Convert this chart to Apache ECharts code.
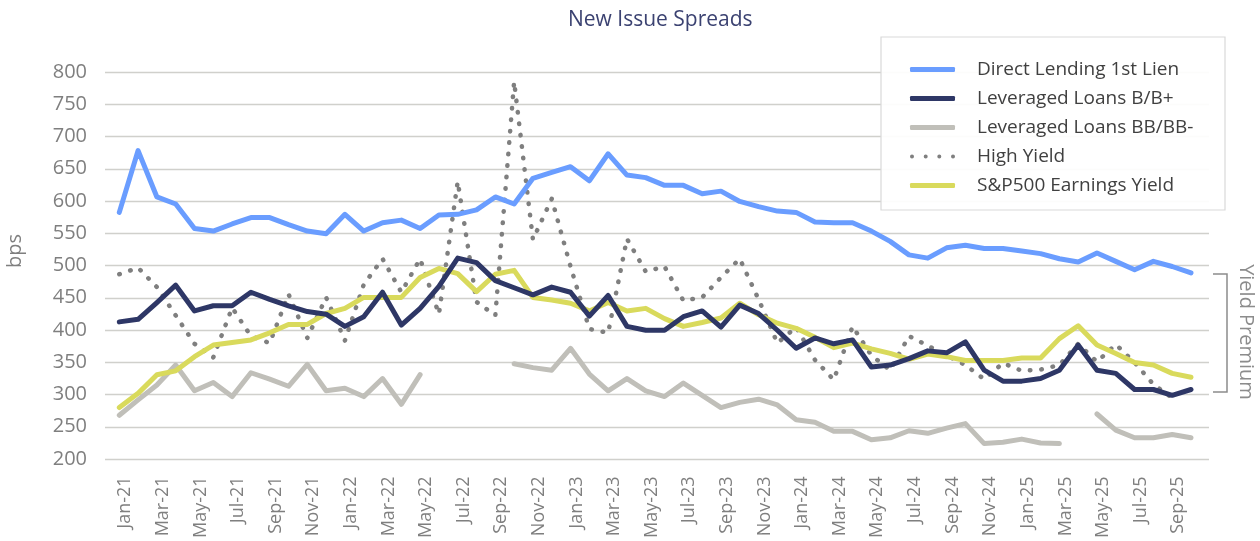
<!DOCTYPE html>
<html>
<head>
<meta charset="utf-8">
<script src="https://cdn.jsdelivr.net/npm/echarts@6.0.0/dist/echarts.min.js"></script>
<style>
  html, body { margin: 0; padding: 0; background: #fff; }
  #chart { width: 1260px; height: 541px; }
</style>
</head>
<body>
<div id="chart"></div>
<script>
const months = [
  "Jan-21", "Feb-21", "Mar-21", "Apr-21", "May-21", "Jun-21", "Jul-21", "Aug-21", "Sep-21", "Oct-21", "Nov-21", "Dec-21",
  "Jan-22", "Feb-22", "Mar-22", "Apr-22", "May-22", "Jun-22", "Jul-22", "Aug-22", "Sep-22", "Oct-22", "Nov-22", "Dec-22",
  "Jan-23", "Feb-23", "Mar-23", "Apr-23", "May-23", "Jun-23", "Jul-23", "Aug-23", "Sep-23", "Oct-23", "Nov-23", "Dec-23",
  "Jan-24", "Feb-24", "Mar-24", "Apr-24", "May-24", "Jun-24", "Jul-24", "Aug-24", "Sep-24", "Oct-24", "Nov-24", "Dec-24",
  "Jan-25", "Feb-25", "Mar-25", "Apr-25", "May-25", "Jun-25", "Jul-25", "Aug-25", "Sep-25", "Oct-25",
];

const directLending = [
  582, 678, 606, 595, 557, 553, 564, 574, 574, 563, 553, 549,
  579, 553, 566, 570, 557, 578, 579, 586, 606, 595, 635, 644,
  653, 631, 673, 640, 636, 624, 624, 611, 615, 599, 591, 584,
  582, 567, 566, 566, 553, 537, 516, 511, 527, 531, 526, 526,
  522, 518, 510, 505, 519, 506, 493, 506, 498, 488,
];

const loansB = [
  412, 416, 442, 469, 429, 437, 437, 458, 447, 437, 428, 424,
  405, 420, 458, 407, 433, 467, 511, 504, 476, 465, 454, 466,
  458, 421, 453, 405, 399, 399, 420, 429, 404, 438, 425, 399,
  371, 387, 378, 384, 342, 345, 355, 367, 364, 381, 337, 320,
  320, 324, 337, 376, 337, 332, 307, 307, 298, 307,
];

const loansBB = [
  267, 291, 314, 345, 305, 318, 296, 333, 323, 312, 346, 305,
  309, 296, 324, 284, 330, null, null, null, null, 347, 341, 337,
  371, 331, 305, 324, 305, 296, 317, 298, 279, 287, 292, 283,
  260, 256, 242, 242, 229, 232, 243, 239, 247, 254, 223, 225,
  230, 224, 223, null, 269, 244, 232, 232, 237, 232,
];

const highYield = [
  486, 496, 466, 422, 378, 357, 434, 390, 379, 455, 387, 450,
  383, 470, 510, 458, 510, 424, 630, 443, 422, 785, 540, 603,
  498, 401, 395, 541, 490, 498, 445, 450, 481, 510, 447, 379,
  404, 353, 322, 405, 360, 337, 390, 375, 360, 345, 323, 348,
  336, 338, 345, 378, 350, 377, 349, 315, 294, null,
];

const spEarnings = [
  279, 301, 330, 336, 358, 376, 380, 384, 395, 408, 408, 425,
  433, 450, 450, 450, 481, 495, 487, 459, 486, 492, 450, 446,
  441, 429, 442, 429, 433, 417, 405, 411, 418, 441, 423, 410,
  402, 388, 372, 379, 370, 363, 354, 362, 358, 352, 352, 352,
  356, 356, 386, 406, 376, 363, 349, 345, 332, 326,
];

const FONT = "Open Sans";
const GREY_TEXT = "#7f7f7f";
// four round dots for the High Yield legend swatch
const DOTS_ICON =
  "path://M0,2a2,2 0 1,0 4,0a2,2 0 1,0 -4,0z" +
  "M13.7,2a2,2 0 1,0 4,0a2,2 0 1,0 -4,0z" +
  "M27.3,2a2,2 0 1,0 4,0a2,2 0 1,0 -4,0z" +
  "M41,2a2,2 0 1,0 4,0a2,2 0 1,0 -4,0z";

const chart = echarts.init(document.getElementById("chart"), null, { renderer: "canvas" });

const solid = (color) => ({ color: color, width: 5, join: "round", cap: "round" });

const option = {
  animation: false,
  textStyle: { fontFamily: FONT },
  title: {
    text: "New Issue Spreads",
    left: 563,
    top: 5,
    textStyle: { fontFamily: FONT, fontSize: 21, fontWeight: "normal", color: "#3b4271" },
  },
  legend: {
    orient: "vertical",
    left: 910,
    top: 60,
    padding: 0,
    itemWidth: 45,
    itemHeight: 5,
    itemGap: 10,
    z: 20,
    textStyle: { fontFamily: FONT, fontSize: 19, color: "#404040", lineHeight: 19, padding: [0, 0, 0, 17] },
    data: [
      { name: "Direct Lending 1st Lien", icon: "roundRect" },
      { name: "Leveraged Loans B/B+", icon: "roundRect" },
      { name: "Leveraged Loans BB/BB-", icon: "roundRect" },
      { name: "High Yield", icon: DOTS_ICON },
      { name: "S&P500 Earnings Yield", icon: "roundRect" },
    ],
  },
  grid: [
    { left: 105, top: 72, width: 1104, height: 387 },
    { left: 119.3, top: 72, width: 1071.7, height: 387 },
  ],
  xAxis: [
    { type: "category", gridIndex: 0, data: months, show: false },
    {
      type: "category",
      gridIndex: 1,
      data: months,
      boundaryGap: false,
      axisLine: { show: false },
      axisTick: { show: false },
      splitLine: { show: false },
      axisLabel: {
        interval: 1,
        rotate: 90,
        margin: 18,
        fontFamily: FONT,
        fontSize: 18,
        lineHeight: 12,
        verticalAlign: "top",
        color: GREY_TEXT,
      },
    },
  ],
  yAxis: [
    {
      type: "value",
      gridIndex: 0,
      min: 200,
      max: 800,
      interval: 50,
      axisLine: { show: false },
      axisTick: { show: false },
      axisLabel: { margin: 18, fontFamily: FONT, fontSize: 20, color: GREY_TEXT },
      splitLine: { lineStyle: { color: "#d0d0cc", width: 1.4 } },
    },
    { type: "value", gridIndex: 1, min: 200, max: 800, interval: 50, show: false, splitLine: { show: false } },
  ],
  graphic: [
    {
      type: "rect",
      z: 10,
      shape: { x: 881, y: 37, width: 344, height: 173 },
      style: { fill: "rgba(255,255,255,0.92)", stroke: "#d9d9d9", lineWidth: 1.2 },
    },
    {
      type: "text",
      x: 15,
      y: 251,
      rotation: Math.PI / 2,
      style: { text: "bps", font: "20px " + FONT, fill: GREY_TEXT, align: "center", verticalAlign: "middle" },
    },
    {
      type: "polyline",
      shape: { points: [[1213, 274], [1227, 274], [1227, 392], [1213, 392]] },
      style: { stroke: "#8c8c8c", lineWidth: 1.5, fill: null },
    },
    {
      type: "text",
      x: 1246,
      y: 332,
      rotation: -Math.PI / 2,
      style: { text: "Yield Premium", font: "20px " + FONT, fill: "#8c8c8c", align: "center", verticalAlign: "middle" },
    },
  ],
  series: [
    {
      name: "Leveraged Loans BB/BB-",
      type: "line",
      xAxisIndex: 1,
      yAxisIndex: 1,
      data: loansBB,
      showSymbol: false,
      symbol: "none",
      connectNulls: false,
      color: "#c0bfb9",
      lineStyle: solid("#c0bfb9"),
    },
    {
      name: "High Yield",
      type: "line",
      xAxisIndex: 1,
      yAxisIndex: 1,
      data: highYield,
      showSymbol: false,
      symbol: "none",
      color: "#7f7f7f",
      lineStyle: { color: "#7f7f7f", width: 4.5, type: [0.5, 11], cap: "round", join: "round" },
    },
    {
      name: "S&P500 Earnings Yield",
      type: "line",
      xAxisIndex: 1,
      yAxisIndex: 1,
      data: spEarnings,
      showSymbol: false,
      symbol: "none",
      color: "#d9da5c",
      lineStyle: solid("#d9da5c"),
    },
    {
      name: "Leveraged Loans B/B+",
      type: "line",
      xAxisIndex: 1,
      yAxisIndex: 1,
      data: loansB,
      showSymbol: false,
      symbol: "none",
      color: "#2e3766",
      lineStyle: solid("#2e3766"),
    },
    {
      name: "Direct Lending 1st Lien",
      type: "line",
      xAxisIndex: 1,
      yAxisIndex: 1,
      data: directLending,
      showSymbol: false,
      symbol: "none",
      color: "#6a9dff",
      lineStyle: solid("#6a9dff"),
    },
  ],
};

chart.setOption(option);
</script>
</body>
</html>
